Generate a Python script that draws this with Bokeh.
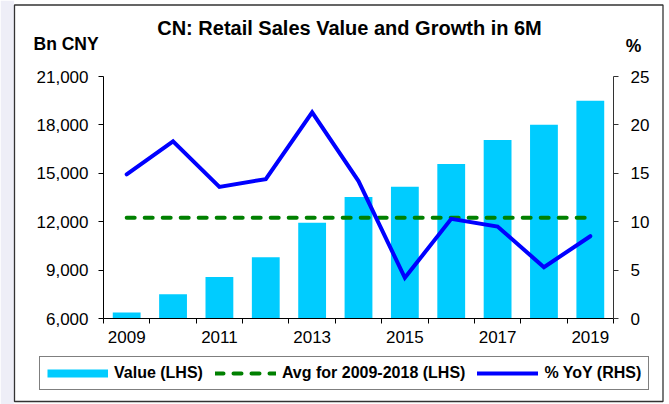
from bokeh.plotting import figure
from bokeh.models import (Range1d, LinearAxis, FixedTicker, NumeralTickFormatter,
                          Legend, LegendItem, ColumnDataSource)
from bokeh.core.properties import value
from bokeh.embed import file_html
from bokeh.resources import INLINE

# ---- data ----
years = [2009, 2010, 2011, 2012, 2013, 2014, 2015, 2016, 2017, 2018, 2019]
value_bn = [6370, 7500, 8570, 9800, 11930, 13530, 14170, 15570, 17070, 18010, 19490]
yoy_pct = [14.9, 18.3, 13.6, 14.4, 21.3, 14.2, 4.2, 10.3, 9.5, 5.3, 8.5]
avg_years = [y for y in years if y <= 2018]
avg_value = sum(v for y, v in zip(years, value_bn) if y <= 2018) / len(avg_years)
avg_line = [avg_value] * len(years)

left_ticks = [6000, 9000, 12000, 15000, 18000, 21000]
right_ticks = [0, 5, 10, 15, 20, 25]
x_label_years = [2009, 2011, 2013, 2015, 2017, 2019]

title_text = "CN: Retail Sales Value and Growth in 6M"
left_unit = "Bn CNY"
right_unit = "%"
legend_labels = ["Value (LHS)", "Avg for 2009-2018 (LHS)", "% YoY (RHS)"]

FONT = "Liberation Sans"
W, H = 669, 404
BAR_C, AVG_C, YOY_C = "#00CCFF", "#008000", "#0000FF"

src = ColumnDataSource(dict(year=years, value=value_bn, yoy=yoy_pct, avg=avg_line))

# ---------------- main chart ----------------
p = figure(width=W, height=H, output_backend="svg", toolbar_location=None, title=None,
           x_range=Range1d(years[0] - 0.5, years[-1] + 0.5),
           y_range=Range1d(left_ticks[0], left_ticks[-1]),
           min_border_left=103, min_border_right=56,
           min_border_top=76, min_border_bottom=86)
p.extra_y_ranges = {"yoy": Range1d(right_ticks[0], right_ticks[-1])}
p.xgrid.visible = False
p.ygrid.visible = False
p.outline_line_color = None
p.background_fill_color = "white"
p.border_fill_color = "white"

xa = p.xaxis[0]
xa.ticker = FixedTicker(ticks=x_label_years,
                        minor_ticks=[y - 0.5 for y in years] + [years[-1] + 0.5])
xa.major_tick_line_color = None
xa.major_tick_out = 5
xa.major_tick_in = 0
xa.minor_tick_out = 5
xa.minor_tick_in = 0
xa.minor_tick_line_color = "black"
xa.axis_line_color = "black"
xa.major_label_standoff = 7
xa.major_label_text_font = FONT
xa.major_label_text_font_size = "17px"
xa.major_label_text_color = "black"

ya = p.yaxis[0]
ya.ticker = FixedTicker(ticks=left_ticks)
ya.formatter = NumeralTickFormatter(format="0,0")
ya.major_tick_out = 5
ya.major_tick_in = 0
ya.minor_tick_line_color = None
ya.axis_line_color = "black"
ya.major_tick_line_color = "black"
ya.major_label_standoff = 10
ya.major_label_text_font = FONT
ya.major_label_text_font_size = "17px"
ya.major_label_text_color = "black"

ra = LinearAxis(y_range_name="yoy", ticker=FixedTicker(ticks=right_ticks))
ra.major_tick_out = 5
ra.major_tick_in = 0
ra.minor_tick_line_color = None
ra.axis_line_color = "#333333"
ra.major_tick_line_color = "#333333"
ra.major_label_standoff = 12
ra.major_label_text_font = FONT
ra.major_label_text_font_size = "17px"
ra.major_label_text_color = "black"
p.add_layout(ra, "right")

bars = p.vbar(x="year", top="value", bottom=left_ticks[0], width=0.6, source=src,
              fill_color=BAR_C, line_color=None)
avg_r = p.line(x="year", y="avg", source=src, line_color=AVG_C, line_width=4,
               line_dash="8 10", line_cap="round")
yoy_r = p.line(x="year", y="yoy", source=src, y_range_name="yoy", line_color=YOY_C,
               line_width=4, line_join="miter", line_cap="round")

# ---------------- overlay: titles, frame, legend ----------------
o = figure(width=W, height=H, output_backend="svg", toolbar_location=None, title=None,
           x_range=Range1d(0, W), y_range=Range1d(H, 0),
           min_border_left=0, min_border_right=0, min_border_top=0, min_border_bottom=0,
           x_axis_location=None, y_axis_location=None,
           styles={"position": "absolute", "top": "0px", "left": "0px"})
o.xgrid.visible = False
o.ygrid.visible = False
o.outline_line_color = None
o.background_fill_alpha = 0
o.border_fill_alpha = 0

o.quad(left=0, right=13.5, top=0, bottom=H, fill_color="#eeeef7", line_color=None)
o.quad(left=14, right=662.5, top=4.5, bottom=401, fill_alpha=0,
       line_color="#333333", line_width=1.3)

o.text(x=[349], y=[27], text=[title_text], text_font=value(FONT), text_font_style="bold",
       text_font_size="20px", text_align="center", text_baseline="middle", text_color="black")
o.text(x=[33], y=[43.5], text=[left_unit], text_font=value(FONT), text_font_style="bold",
       text_font_size="17.5px", text_align="left", text_baseline="middle", text_color="black")
o.text(x=[633], y=[45], text=[right_unit], text_font=value(FONT), text_font_style="bold",
       text_font_size="17.5px", text_align="center", text_baseline="middle", text_color="black")

# legend proxies: same data, drawn far outside this overlay's visible area
leg_bar = o.line(x="year", y="value", source=src, line_color=BAR_C, line_width=8)
leg_avg = o.line(x="year", y="avg", source=src, line_color=AVG_C, line_width=4,
                 line_dash="8 10", line_cap="round")
leg_yoy = o.line(x="year", y="yoy", source=src, line_color=YOY_C, line_width=4,
                 line_cap="round")

legend = Legend(items=[LegendItem(label=legend_labels[0], renderers=[leg_bar]),
                       LegendItem(label=legend_labels[1], renderers=[leg_avg]),
                       LegendItem(label=legend_labels[2], renderers=[leg_yoy])],
                location=(39, 14), orientation="horizontal",
                border_line_color="black", border_line_width=1,
                background_fill_color="white", background_fill_alpha=1,
                label_text_font=FONT, label_text_font_style="bold",
                label_text_font_size="16px", label_text_color="black",
                glyph_width=61, glyph_height=10, label_height=16, label_standoff=6,
                spacing=12, padding=7, margin=0)
o.add_layout(legend)

open("out.html", "w").write(file_html([p, o], INLINE))
